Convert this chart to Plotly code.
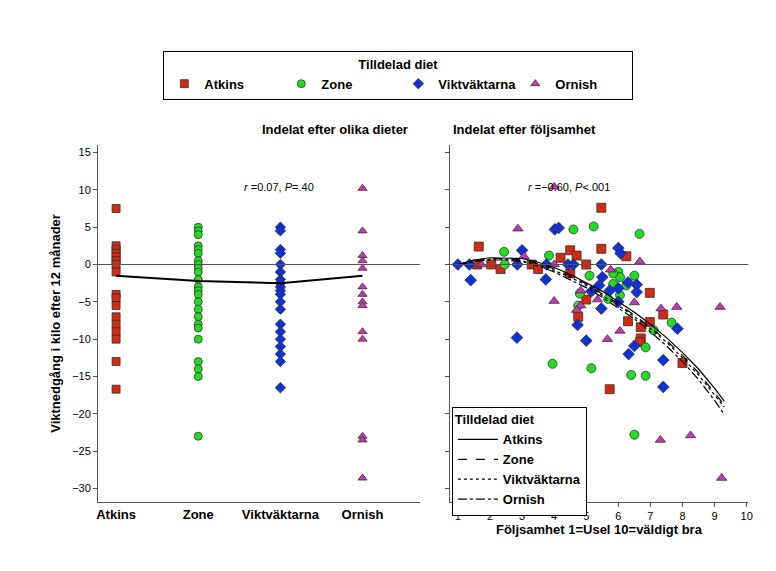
import plotly.graph_objects as go

diets = ['Atkins', 'Zone', 'Viktväktarna', 'Ornish']
colors = ['#d42a12', '#22dd22', '#1030d8', '#cc33bb']
symbols = ['square', 'circle', 'diamond', 'triangle-up']

# left panel: weight change per diet
left_vals = {
    'Atkins': [7.5, 2.5, 2, 1.5, 1, 0.5, 0, -1, -4, -4.5, -5.5, -7, -8, -9, -10, -13, -16.7],
    'Zone': [5, 4.5, 4, 2.5, 2, 1.5, 0.5, 0, -0.5, -1, -2, -3, -3.5, -4, -5, -6, -7, -8,
             -8.5, -10, -13, -14, -15, -23],
    'Viktväktarna': [5, 4.5, 2, 1.5, 0, -1, -2, -2.5, -3, -3.5, -4, -5, -6, -8, -9, -10,
                     -11, -12, -13, -16.5],
    'Ornish': [10.2, 4.5, 1.2, 0.5, -0.5, -3, -4, -5, -5.5, -9, -10, -23, -23.5, -28.6],
}
means = [-1.5, -2.2, -2.5, -1.5]

# right panel: adherence vs weight change
right_x = {
    'Atkins': [1.65, 1.6, 2.04, 2.33, 3.3, 3.5, 4.2, 4.5, 4.7, 5.0, 4.5, 5.47, 5.47, 6.25, 5.0,
               4.75, 6.98, 7.4, 6.3, 6.98, 6.7, 6.7, 6.67, 8.0, 5.73],
    'Zone': [2.44, 2.46, 3.84, 4.6, 5.23, 6.66, 5.1, 6.0, 6.05, 6.5, 5.84, 5.84, 4.8, 5.68,
             6.05, 4.75, 7.1, 7.66, 6.85, 3.95, 5.16, 6.4, 6.85, 6.5, 6.25],
    'Viktväktarna': [1, 1.36, 1.4, 2.85, 3.0, 2.84, 3.76, 3.74, 4.02, 4.14, 4.43, 4.6, 5.47,
                     5.5, 5.16, 5.4, 5.73, 6.0, 6.07, 6.0, 6.0, 6.3, 6.57, 6.57, 5.47, 4.73,
                     5.0, 6.5, 6.32, 7.4, 7.4, 7.84],
    'Ornish': [4.0, 2.87, 3.06, 1.73, 4.0, 6.67, 5.76, 4.0, 4.83, 4.83, 4.7, 5.35, 6.5, 6.05,
               5.66, 7.33, 7.82, 9.17, 7.31, 8.25, 9.22],
}
right_y = {
    'Atkins': [2.4, 0, 0, -0.6, 0, -0.6, 0.9, 1.9, 1.2, 0, -1.2, 7.6, 2.1, 1.1, -4.7, -7.0,
               -3.8, -6.7, -7.6, -7.7, -8.4, -9.9, -10.4, -13.2, -16.7],
    'Zone': [1.7, 0, 1.2, 4.7, 5.1, 4.1, -1.5, -1.0, -1.7, -1.5, -1.2, -2.6, -3.9, -4.6,
             -4.1, -5.5, -8.8, -7.8, -11.1, -13.3, -13.9, -14.8, -14.9, -22.8, -2.8],
    'Viktväktarna': [0, 0, -2.1, 0, 1.9, -9.8, 0, -2.0, 4.7, 4.9, 0, 0, 0, -1.7, -3.6, -2.8,
                     -3.5, 2.2, 1.5, -3.2, -5.0, -2.4, -2.7, -3.7, -5.9, -8.1, -10.2, -10.9,
                     -12.0, -12.8, -16.4, -8.6],
    'Ornish': [10.4, 4.8, 1.1, 0, 0, 0.4, -0.7, -4.9, -3.5, -5.5, -6.1, -4.7, -5.1, -8.9,
               -10.0, -5.9, -5.7, -5.7, -23.5, -22.9, -28.6],
}

# fitted curves
fit_x = [1, 1.5, 2, 2.5, 3, 3.5, 4, 4.5, 5, 5.5, 6, 6.5, 7, 7.5, 8, 8.5, 9, 9.3]
fit_y = {
    'Atkins': [0, 0.6, 0.9, 0.9, 0.8, 0.3, -0.4, -1.3, -2.4, -3.6, -5.0, -6.4, -8.0, -9.8,
               -11.8, -14.0, -16.6, -18.3],
    'Zone': [0, 0.5, 0.8, 0.8, 0.6, 0.1, -0.6, -1.5, -2.6, -3.9, -5.3, -6.8, -8.4, -10.2,
             -12.2, -14.5, -17.1, -18.8],
    'Viktväktarna': [0, 0.5, 0.7, 0.7, 0.5, 0.0, -0.8, -1.7, -2.8, -4.1, -5.5, -7.0, -8.6,
                     -10.4, -12.5, -14.8, -17.4, -19.1],
    'Ornish': [0, 0.4, 0.6, 0.6, 0.4, -0.2, -1.0, -2.0, -3.1, -4.4, -5.8, -7.3, -9.0, -10.9,
               -13.0, -15.4, -18.2, -20.1],
}
dashes = ['solid', 'dash', 'dot', 'dashdot']

fig = go.Figure()
mk_line = dict(color='#333', width=0.8)

for i, d in enumerate(diets):
    fig.add_trace(go.Scatter(
        x=[i] * len(left_vals[d]), y=left_vals[d], mode='markers', name='<b>%s</b>' % d,
        marker=dict(symbol=symbols[i], color=colors[i], size=8, line=mk_line),
        xaxis='x', yaxis='y', legend='legend'))
fig.add_trace(go.Scatter(x=list(range(4)), y=means, mode='lines',
                         line=dict(color='black', width=2), showlegend=False))

for i, d in enumerate(diets):
    fig.add_trace(go.Scatter(
        x=right_x[d], y=right_y[d], mode='markers', showlegend=False,
        marker=dict(symbol=symbols[i], color=colors[i], size=9, line=mk_line),
        xaxis='x2', yaxis='y2'))
for i, d in enumerate(diets):
    fig.add_trace(go.Scatter(
        x=fit_x, y=fit_y[d], mode='lines', name='<b>%s</b>' % d,
        line=dict(color='black', width=1.2, dash=dashes[i]),
        xaxis='x2', yaxis='y2', legend='legend2'))

font = 'Liberation Sans, Arial, sans-serif'
axis_common = dict(showgrid=False, zeroline=False, automargin=False,
                   showline=True, linecolor='#555', ticks='outside', ticklen=4,
                   tickcolor='#555')
fig.update_layout(
    width=776, height=571, plot_bgcolor='white', paper_bgcolor='white',
    margin=dict(l=0, r=0, t=0, b=0, autoexpand=False),
    font=dict(family=font, color='black', size=11),
    xaxis=dict(domain=[0.116, 0.531], range=[-0.22, 3.7], tickvals=list(range(4)),
               ticktext=['<b>%s</b>' % d for d in diets], showline=True,
               linecolor='#555', showgrid=False, automargin=False,
               zeroline=False, ticks='', tickfont=dict(size=13, color='black'),
               anchor='y'),
    yaxis=dict(axis_common, domain=[0.135, 0.76], range=[-31.8, 16], dtick=5,
               anchor='x',
               title=dict(text='<b>Viktnedgång i kilo efter 12 månader</b>',
                          font=dict(size=13), standoff=8)),
    xaxis2=dict(axis_common, domain=[0.569, 0.954], range=[0.74, 10.05], dtick=1,
                anchor='y2',
                title=dict(text='<b>Följsamhet 1=Usel 10=väldigt bra</b>',
                           font=dict(size=13), standoff=2)),
    yaxis2=dict(axis_common, domain=[0.135, 0.76], range=[-31.8, 16], dtick=5,
                showticklabels=False, anchor='x2'),
    legend=dict(orientation='h', x=0.503, xanchor='center', y=0.925, yanchor='top',
                bordercolor='black', borderwidth=1, bgcolor='white',
                title=dict(text='<b>Tilldelad diet</b>', side='top center',
                           font=dict(size=13)),
                font=dict(size=13), itemwidth=30, entrywidthmode='pixels',
                entrywidth=72),
    legend2=dict(x=0.572, xanchor='left', y=0.302, yanchor='top',
                 bordercolor='black', borderwidth=1, bgcolor='white',
                 title=dict(text='<b>Tilldelad diet</b>', font=dict(size=13)),
                 font=dict(size=13), tracegroupgap=0, itemwidth=40),
    shapes=[dict(type='line', xref='x domain', yref='y', x0=0, x1=1, y0=0, y1=0,
                 line=dict(color='#555', width=1)),
            dict(type='line', xref='x2 domain', yref='y2', x0=0, x1=1, y0=0, y1=0,
                 line=dict(color='#555', width=1))],
    annotations=[
        dict(text='<b>Indelat efter olika dieter</b>', xref='paper', yref='paper',
             x=0.325, y=0.77, showarrow=False, yanchor='bottom', font=dict(size=13)),
        dict(text='<b>Indelat efter följsamhet</b>', xref='paper', yref='paper',
             x=0.76, y=0.77, showarrow=False, yanchor='bottom', font=dict(size=13)),
        dict(text='<i>r</i> =0.07, <i>P</i>=.40', xref='paper', yref='paper',
             x=0.349, y=0.70, showarrow=False, font=dict(size=11)),
        dict(text='<i>r</i> =−0.60, <i>P</i><.001', xref='paper', yref='paper',
             x=0.778, y=0.70, showarrow=False, font=dict(size=11)),
    ],
)

fig.write_html('out.html')
